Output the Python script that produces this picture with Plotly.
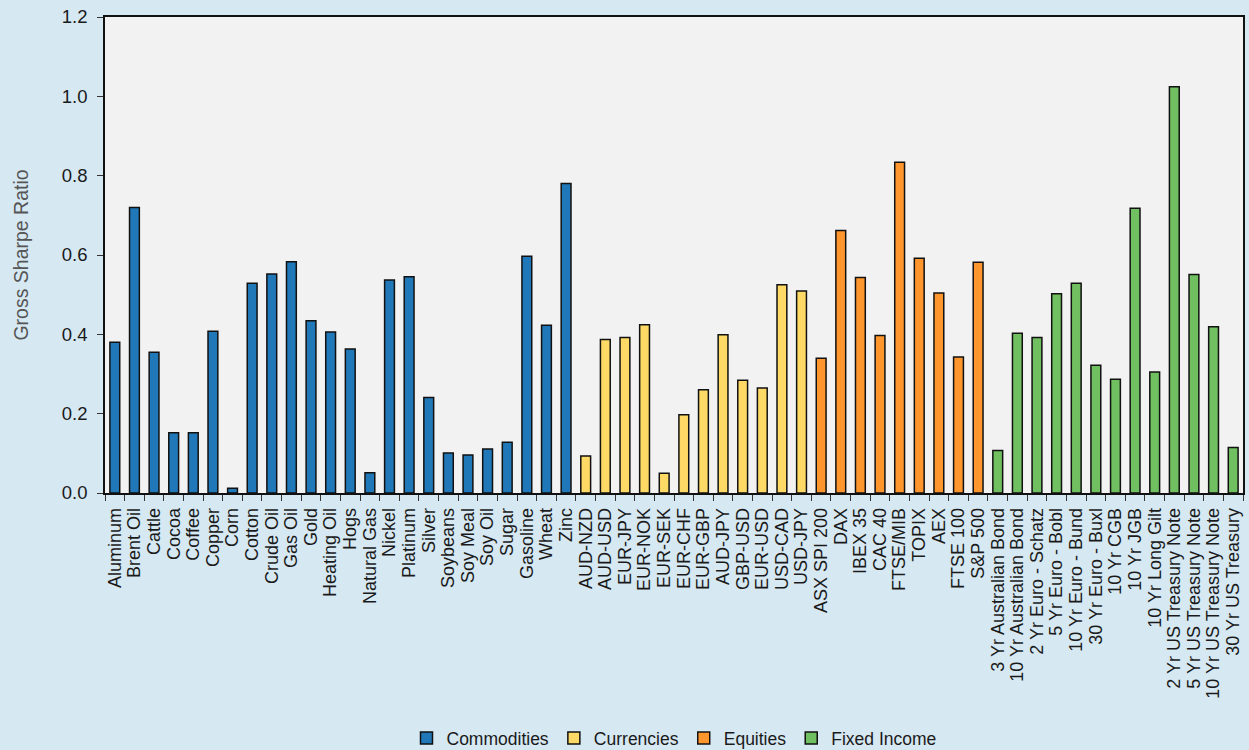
import plotly.graph_objects as go

commodities = ["Aluminum", "Brent Oil", "Cattle", "Cocoa", "Coffee", "Copper", "Corn", "Cotton",
               "Crude Oil", "Gas Oil", "Gold", "Heating Oil", "Hogs", "Natural Gas", "Nickel",
               "Platinum", "Silver", "Soybeans", "Soy Meal", "Soy Oil", "Sugar", "Gasoline",
               "Wheat", "Zinc"]
commodities_vals = [0.380, 0.720, 0.355, 0.152, 0.152, 0.408, 0.012, 0.529,
                    0.552, 0.583, 0.434, 0.406, 0.363, 0.051, 0.537,
                    0.545, 0.241, 0.101, 0.096, 0.111, 0.128, 0.597,
                    0.423, 0.780]

currencies = ["AUD-NZD", "AUD-USD", "EUR-JPY", "EUR-NOK", "EUR-SEK", "EUR-CHF", "EUR-GBP",
              "AUD-JPY", "GBP-USD", "EUR-USD", "USD-CAD", "USD-JPY"]
currencies_vals = [0.093, 0.387, 0.392, 0.424, 0.050, 0.197, 0.260,
                   0.399, 0.284, 0.265, 0.525, 0.509]

equities = ["ASX SPI 200", "DAX", "IBEX 35", "CAC 40", "FTSE/MIB", "TOPIX", "AEX", "FTSE 100", "S&P 500"]
equities_vals = [0.340, 0.662, 0.543, 0.397, 0.834, 0.592, 0.504, 0.343, 0.582]

fixed_income = ["3 Yr Australian Bond", "10 Yr Australian Bond", "2 Yr Euro - Schatz",
                "5 Yr Euro - Bobl", "10 Yr Euro - Bund", "30 Yr Euro - Buxl", "10 Yr CGB",
                "10 Yr JGB", "10 Yr Long Gilt", "2 Yr US Treasury Note", "5 Yr US Treasury Note",
                "10 Yr US Treasury Note", "30 Yr US Treasury"]
fixed_income_vals = [0.107, 0.403, 0.392, 0.502, 0.529, 0.322, 0.287,
                     0.718, 0.305, 1.024, 0.551, 0.419, 0.115]

groups = [
    ("Commodities", commodities, commodities_vals, "#2178b8"),
    ("Currencies", currencies, currencies_vals, "#ffd966"),
    ("Equities", equities, equities_vals, "#ff952d"),
    ("Fixed Income", fixed_income, fixed_income_vals, "#70bf60"),
]

all_cats = commodities + currencies + equities + fixed_income

fig = go.Figure()
for name, cats, vals, color in groups:
    fig.add_trace(go.Bar(
        x=cats, y=vals, name=name,
        marker=dict(color=color, line=dict(color="#111111", width=1.5)),
    ))

font = "Liberation Sans, Arial, Helvetica, sans-serif"
fig.update_layout(
    width=1249, height=750,
    paper_bgcolor="#d6e8f2",
    plot_bgcolor="#f2f2f2",
    barmode="overlay",
    bargap=0.5,
    margin=dict(l=105, r=6, t=17, b=257, autoexpand=False),
    font=dict(family=font, size=18, color="#1a1a1a"),
    legend=dict(orientation="h", x=0.5, xanchor="center", y=-0.515, yanchor="middle",
                font=dict(size=17.5, color="#1a1a1a"), bgcolor="rgba(0,0,0,0)",
                itemwidth=30, tracegroupgap=0, traceorder="normal"),
    showlegend=True,
)
fig.update_xaxes(
    type="category", categoryorder="array", categoryarray=all_cats,
    tickmode="array", tickvals=all_cats, ticktext=all_cats,
    tickangle=-90, ticks="outside", tickson="boundaries", ticklen=6,
    tickcolor="#333333", showline=True, linecolor="#111111", linewidth=1.5,
    mirror=True, showgrid=False, automargin=False, ticklabelstandoff=6,
    tickfont=dict(size=18, color="#1a1a1a"),
)
fig.update_yaxes(
    range=[0, 1.2], dtick=0.2, tickformat=".1f", ticks="outside", ticklen=6,
    tickcolor="#333333", showline=True, linecolor="#111111", linewidth=1.5,
    mirror=True, showgrid=False, zeroline=False, automargin=False,
    ticklabelstandoff=6,
    tickfont=dict(size=18.5, color="#1a1a1a"),
    title=dict(text="Gross Sharpe Ratio", font=dict(size=19.5, color="#555555"), standoff=28),
)

fig.write_html(
    "out.html",
    config={"displayModeBar": False},
    post_script="document.body.style.margin='0';document.body.style.padding='0';",
)
